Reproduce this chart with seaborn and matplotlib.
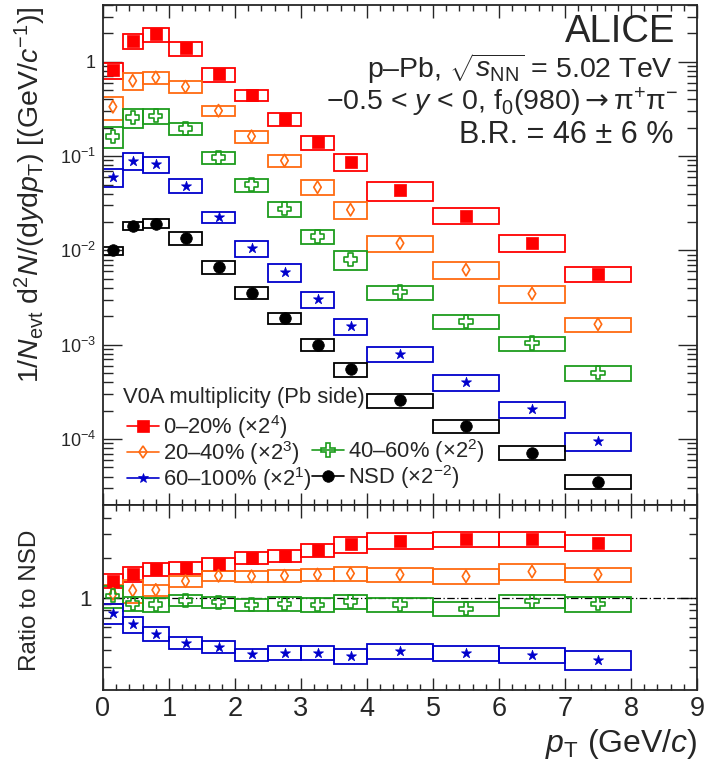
import numpy as np
import pandas as pd
import matplotlib
matplotlib.use("Agg")
import matplotlib.pyplot as plt
from matplotlib.lines import Line2D
from matplotlib.ticker import FixedLocator, FixedFormatter, MultipleLocator, NullFormatter
import seaborn as sns

# ---------------- data ----------------
pt_lo = [0.0, 0.3, 0.6, 1.0, 1.5, 2.0, 2.5, 3.0, 3.5, 4.0, 5.0, 6.0, 7.0]
pt_hi = [0.3, 0.6, 1.0, 1.5, 2.0, 2.5, 3.0, 3.5, 4.0, 5.0, 6.0, 7.0, 8.0]

# spectra (already multiplied by the legend scale factors)
spec_0_20 = [0.817, 1.67, 1.96, 1.40, 0.741, 0.444, 0.247, 0.140, 0.0875, 0.0432, 0.0234, 0.01206, 0.00567]
spec_20_40 = [0.334, 0.629, 0.682, 0.544, 0.303, 0.162, 0.0896, 0.0468, 0.0270, 0.01194, 0.00624, 0.00348, 0.00165]
spec_40_60 = [0.162, 0.257, 0.268, 0.197, 0.0971, 0.0499, 0.0276, 0.01406, 0.00803, 0.00362, 0.00177, 0.001045, 0.000503]
spec_60_100 = [0.0597, 0.0896, 0.0826, 0.0484, 0.0225, 0.01059, 0.00590, 0.00303, 0.00158, 0.000807, 0.000404, 0.000206, 9.5e-5]
spec_nsd = [0.0100, 0.0181, 0.0192, 0.0135, 0.00666, 0.00357, 0.00192, 0.001005, 0.000551, 0.000259, 0.000137, 7.16e-5, 3.53e-5]

# relative systematic uncertainties of the spectra
sys_0_20 = [0.20, 0.19, 0.17, 0.17, 0.17, 0.14, 0.16, 0.17, 0.21, 0.22, 0.19, 0.20, 0.19]
sys_20_40 = [0.27, 0.21, 0.15, 0.14, 0.13, 0.14, 0.15, 0.18, 0.20, 0.20, 0.21, 0.21, 0.17]
sys_40_60 = [0.25, 0.22, 0.18, 0.15, 0.15, 0.16, 0.18, 0.17, 0.22, 0.17, 0.18, 0.17, 0.18]
sys_60_100 = [0.21, 0.20, 0.19, 0.17, 0.14, 0.20, 0.22, 0.19, 0.20, 0.18, 0.19, 0.19, 0.22]
sys_nsd = [0.10, 0.10, 0.11, 0.15, 0.15, 0.15, 0.14, 0.14, 0.17, 0.17, 0.16, 0.17, 0.17]

# ratios to NSD
ratio_0_20 = [1.34, 1.51, 1.64, 1.67, 1.79, 1.99, 2.07, 2.28, 2.53, 2.68, 2.76, 2.76, 2.60]
ratio_20_40 = [1.065, 1.13, 1.14, 1.33, 1.46, 1.445, 1.46, 1.49, 1.52, 1.49, 1.445, 1.57, 1.49]
ratio_40_60 = [1.03, 0.90, 0.886, 0.95, 0.92, 0.88, 0.897, 0.88, 0.933, 0.886, 0.822, 0.939, 0.897]
ratio_60_100 = [0.763, 0.627, 0.534, 0.457, 0.424, 0.371, 0.382, 0.382, 0.363, 0.394, 0.378, 0.367, 0.337]

rsys_0_20 = [0.126, 0.13, 0.11, 0.106, 0.107, 0.106, 0.11, 0.116, 0.138, 0.138, 0.124, 0.135, 0.136]
rsys_20_40 = [0.16, 0.20, 0.095, 0.098, 0.095, 0.095, 0.107, 0.107, 0.12, 0.124, 0.127, 0.136, 0.124]
rsys_40_60 = [0.19, 0.115, 0.118, 0.092, 0.092, 0.098, 0.12, 0.12, 0.118, 0.118, 0.12, 0.12, 0.13]
rsys_60_100 = [0.17, 0.143, 0.115, 0.10, 0.106, 0.107, 0.118, 0.124, 0.132, 0.127, 0.13, 0.13, 0.164]

labels = ["0–20% (×2$^{4}$)", "20–40% (×2$^{3}$)", "40–60% (×2$^{2}$)",
          "60–100% (×2$^{1}$)", "NSD (×2$^{-2}$)"]
legend_title = "V0A multiplicity (Pb side)"
ytick_vals = [1e-4, 1e-3, 1e-2, 1e-1, 1]
ytick_labels = ["10$^{-4}$", "10$^{-3}$", "10$^{-2}$", "10$^{-1}$", "1"]

# ---------------- style ----------------
colors = ["#ff0000", "#ff6a10", "#1c9c1c", "#0000cc", "#000000"]
markers = ["s", "d", "P", "*", "o"]
msizes = [85, 40, 90, 58, 70]
filled = [True, False, False, True, True]

sns.set_style("ticks")
plt.rcParams["font.family"] = ["Liberation Sans", "DejaVu Sans"]
plt.rcParams["mathtext.fontset"] = "custom"
plt.rcParams["mathtext.rm"] = "Liberation Sans"
plt.rcParams["mathtext.it"] = "Liberation Sans:italic"
plt.rcParams["mathtext.bf"] = "Liberation Sans:bold"
plt.rcParams["mathtext.sf"] = "DejaVu Sans"
plt.rcParams["axes.linewidth"] = 1.3

W, H = 705, 772
fig = plt.figure(figsize=(W / 100, H / 100), dpi=100)
L, R = 103, 697
ax1 = fig.add_axes([L / W, 1 - 505 / H, (R - L) / W, 500 / H])
ax2 = fig.add_axes([L / W, 1 - 690 / H, (R - L) / W, 185 / H], sharex=ax1)

lo = np.array(pt_lo)
hi = np.array(pt_hi)
ctr = (lo + hi) / 2
wid = hi - lo

spectra = [spec_0_20, spec_20_40, spec_40_60, spec_60_100, spec_nsd]
sysl = [sys_0_20, sys_20_40, sys_40_60, sys_60_100, sys_nsd]
ratios = [ratio_0_20, ratio_20_40, ratio_40_60, ratio_60_100]
rsysl = [rsys_0_20, rsys_20_40, rsys_40_60, rsys_60_100]


def draw(ax, vals, errs, i):
    v = np.array(vals)
    e = np.array(errs)
    b = v * (1 - e)
    t = v * (1 + e)
    ax.bar(ctr, t - b, bottom=b, width=wid, align="center", fill=False,
           edgecolor=colors[i], linewidth=1.3, zorder=2)
    df = pd.DataFrame({"pt": ctr, "val": v})
    kw = dict(data=df, x="pt", y="val", ax=ax, marker=markers[i], s=msizes[i],
              zorder=3, legend=False)
    if filled[i]:
        sns.scatterplot(color=colors[i], edgecolor=colors[i], linewidth=0.5, **kw)
    else:
        sns.scatterplot(facecolor="none", edgecolor=colors[i], linewidth=1.2, **kw)


for i in range(5):
    draw(ax1, spectra[i], sysl[i], i)
for i in range(4):
    draw(ax2, ratios[i], rsysl[i], i)

ax2.axhline(1.0, color="black", lw=0.9, ls=(0, (6, 2, 1, 2)), zorder=1)

# axes
ax1.set_yscale("log")
ax1.set_ylim(2e-5, 4)
ax1.set_xlim(0, 9)
ax1.yaxis.set_major_locator(FixedLocator(ytick_vals))
ax1.yaxis.set_major_formatter(FixedFormatter(ytick_labels))
minors = [m * 10.0 ** k for k in range(-5, 1) for m in range(2, 10)]
ax1.yaxis.set_minor_locator(FixedLocator(minors))
ax1.yaxis.set_minor_formatter(NullFormatter())
ax1.tick_params(labelbottom=False)

ax2.set_yscale("log")
ax2.set_ylim(0.2, 5)
ax2.yaxis.set_major_locator(FixedLocator([1]))
ax2.yaxis.set_major_formatter(FixedFormatter(["1"]))
ax2.yaxis.set_minor_locator(FixedLocator([0.3, 0.4, 0.5, 0.6, 0.7, 0.8, 0.9, 2, 3, 4]))
ax2.yaxis.set_minor_formatter(NullFormatter())
ax2.xaxis.set_major_locator(MultipleLocator(1))
ax2.xaxis.set_minor_locator(MultipleLocator(0.2))

for ax in (ax1, ax2):
    ax.set_xlabel("")
    ax.set_ylabel("")
    ax.tick_params(which="both", direction="in", top=True, right=True, width=1.0)
    ax.tick_params(axis="x", which="major", length=9, labelsize=19.5, pad=4)
    ax.tick_params(axis="x", which="minor", length=4.5)
ax1.tick_params(axis="y", which="major", length=14, labelsize=13, pad=5)
ax1.tick_params(axis="y", which="minor", length=7)
ax2.tick_params(axis="y", which="major", length=14, labelsize=16, pad=8)
ax2.tick_params(axis="y", which="minor", length=6)

# legend
handles = []
for i in range(5):
    handles.append(Line2D([], [], color=colors[i], marker=markers[i], lw=1.2,
                          markersize=np.sqrt(msizes[i]),
                          markerfacecolor=colors[i] if filled[i] else "none",
                          markeredgecolor=colors[i], markeredgewidth=1.2 if not filled[i] else 0.5))
blank = Line2D([], [], color="none")
ax1.text((123 - L) / (R - L), 1 - (397 - 5) / 500, legend_title, transform=ax1.transAxes,
         ha="left", va="center", fontsize=15.8)
leg = ax1.legend([handles[0], handles[1], handles[3], blank, handles[2], handles[4]],
                 [labels[0], labels[1], labels[3], "", labels[2], labels[4]],
                 ncol=2, loc="upper left", bbox_to_anchor=((127 - L) / (R - L), 1 - (413 - 5) / 500),
                 frameon=False, fontsize=15.8, borderpad=0, borderaxespad=0,
                 handlelength=1.45, handletextpad=0.2, labelspacing=-0.09,
                 columnspacing=0.0)

# annotations
ax1.text(0.963, 1 - (42 - 5) / 500, "ALICE", transform=ax1.transAxes, ha="right", va="baseline",
         fontsize=27.5)
ax1.text(0.960, 1 - (78 - 5) / 500, "p–Pb, $\\sqrt{s_{\\rm NN}}$ = 5.02 TeV", transform=ax1.transAxes,
         ha="right", va="baseline", fontsize=20.5)
ax1.text(0.968, 0.790, "−0.5 < $y$ < 0, f$_{\\rm 0}$(980)$\\mathsf{\\rightarrow}$π$^{+}$π$^{-}$",
         transform=ax1.transAxes, ha="right", va="baseline", fontsize=20.5)
ax1.text(0.960, 0.724, "B.R. = 46 ± 6 %", transform=ax1.transAxes,
         ha="right", va="baseline", fontsize=22)

fig.text(30 / W, 1 - 195 / H,
         "1/$N_{\\rm evt}$ d$^{2}$$N$/(d$y$d$p_{\\rm T}$) [(GeV/$c^{-1}$)]",
         rotation=90, ha="center", va="center", fontsize=20.5)
fig.text(30 / W, 1 - 600 / H, "Ratio to NSD", rotation=90, ha="center", va="center", fontsize=17.5)
fig.text(697 / W, 1 - 752 / H, "$p_{\\rm T}$ (GeV/$c$)", ha="right", va="baseline", fontsize=23)

fig.savefig("out.png", dpi=100)
